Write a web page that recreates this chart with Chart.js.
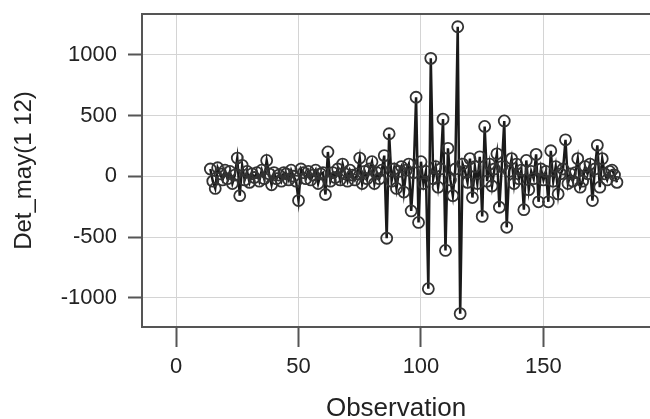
<!DOCTYPE html>
<html>
<head>
<meta charset="utf-8">
<script src="https://cdn.jsdelivr.net/npm/chart.js@4.4.1/dist/chart.umd.min.js"></script>
<style>
  html, body { margin: 0; padding: 0; background: #fff; }
  #wrap { width: 650px; height: 419px; }
</style>
</head>
<body>
<div id="wrap"><canvas id="chart"></canvas></div>
<script>
// first observation number (the earlier ones are lost to differencing)
const firstObs = 14;

// Det_may(1 12), obs 14 .. 180
const detMay = [
  60, -40, -100, 70, 20, -30, 50, -20, 40, -60,        // 14-23
  10, 150, -160, 90, -30, 40, -50, 20, -10, 30,        // 24-33
  -40, 50, -20, 130, 20, -70, 30, -20, 10, -40,        // 34-43
  30, 20, -30, 50, 0, -40, -200, 60, 30, -20,          // 44-53
  40, -30, 10, 50, -60, 20, 30, -150, 200, -40,        // 54-63
  30, -10, 60, -30, 100, 20, -40, 50, 10, -30,         // 64-73
  20, 150, -60, 40, -20, 60, 120, -60, 30, -20,        // 74-83
  50, 170, -510, 350, -40, 60, -100, 40, 80, -130,     // 84-93
  50, 100, -285, 30, 650, -380, 120, -60, 40, -925,    // 94-103
  970, -20, 80, -90, 60, 470, -610, 230, -30, -160,    // 104-113
  60, 1230, -1130, 100, 40, -50, 145, -175, 80, -60,   // 114-123
  160, -330, 410, -40, 100, -80, 60, 185, -255, 80,    // 124-133
  455, -420, 40, 145, -60, 100, -20, 50, -275, 130,    // 134-143
  -110, 40, -20, 180, -210, 60, -30, 40, -210, 210,    // 144-153
  -40, 80, -145, 20, 60, 300, -60, 20, -40, 30,        // 154-163
  145, -90, -40, 80, 20, 100, -200, 60, 255, -90,      // 164-173
  145, 20, -30, 40, 50, 10, -50                        // 174-180
];

const xTicks = [0, 50, 100, 150];
const yTicks = [-1000, -500, 0, 500, 1000];
const xTitle = 'Observation';
const yTitle = 'Det_may(1 12)';

const FONT = "'Liberation Sans', Arial, sans-serif";
const TEXT = '#222';

// dark frame round the plot (open on the right, the picture is cut there)
const framePlugin = {
    id: 'frame',
    beforeDatasetsDraw(chart) {
        const { ctx, chartArea: a } = chart;
        ctx.save();
        ctx.strokeStyle = '#555';
        ctx.lineWidth = 2;
        ctx.beginPath();
        ctx.moveTo(a.right, a.top);
        ctx.lineTo(a.left, a.top);
        ctx.lineTo(a.left, a.bottom);
        ctx.lineTo(a.right, a.bottom);
        ctx.stroke();
        ctx.restore();
    }
};

function gridOpts(tickLen) {
    return {
        color: '#d4d4d4',
        lineWidth: 1,
        borderDash: [1, 2],
        drawTicks: true,
        tickLength: tickLen,
        tickColor: '#555',
        tickWidth: 2,
        tickBorderDash: []
    };
}

function renderChart() {
    const ctx = document.getElementById('chart').getContext('2d');
    const points = detMay.map((v, i) => ({ x: firstObs + i, y: v }));

    new Chart(ctx, {
        type: 'line',
        data: {
            datasets: [{
                data: points,
                borderColor: '#1a1a1a',
                borderWidth: 2.5,
                tension: 0,
                pointRadius: 5.5,
                pointBorderWidth: 1.8,
                pointBorderColor: '#333',
                pointBackgroundColor: 'rgba(0,0,0,0)'
            }]
        },
        options: {
            responsive: true,
            maintainAspectRatio: false,
            animation: false,
            layout: { autoPadding: false, padding: { top: 14, left: 0, right: 0, bottom: 0 } },
            plugins: {
                legend: { display: false },
                tooltip: { enabled: false }
            },
            scales: {
                x: {
                    type: 'linear',
                    min: -13.9,
                    max: 193.5,
                    afterBuildTicks: s => { s.ticks = xTicks.map(v => ({ value: v })); },
                    afterFit: s => {
                        s.height = 92;
                        s.paddingLeft = 0;
                        s.paddingRight = 0;
                    },
                    grid: gridOpts(20),
                    border: { display: false },
                    ticks: {
                        color: TEXT,
                        font: { family: FONT, size: 22 },
                        padding: 7,
                        maxRotation: 0,
                        callback: v => String(v)
                    },
                    title: {
                        display: true,
                        text: xTitle,
                        color: TEXT,
                        font: { family: FONT, size: 26, lineHeight: 1 },
                        padding: { top: 0, bottom: -3 }
                    }
                },
                y: {
                    min: -1240,
                    max: 1335,
                    afterBuildTicks: s => { s.ticks = yTicks.map(v => ({ value: v })); },
                    afterFit: s => {
                        s.width = 142;
                        s.paddingTop = 0;
                        s.paddingBottom = 0;
                    },
                    grid: gridOpts(14),
                    border: { display: false },
                    ticks: {
                        color: TEXT,
                        font: { family: FONT, size: 22 },
                        padding: 11,
                        callback: v => String(v)
                    },
                    title: {
                        display: true,
                        text: yTitle,
                        color: TEXT,
                        font: { family: FONT, size: 24, lineHeight: 1 },
                        padding: { top: 12, bottom: 0 }
                    }
                }
            }
        },
        plugins: [framePlugin]
    });
}

document.addEventListener('DOMContentLoaded', renderChart);
</script>
</body>
</html>
